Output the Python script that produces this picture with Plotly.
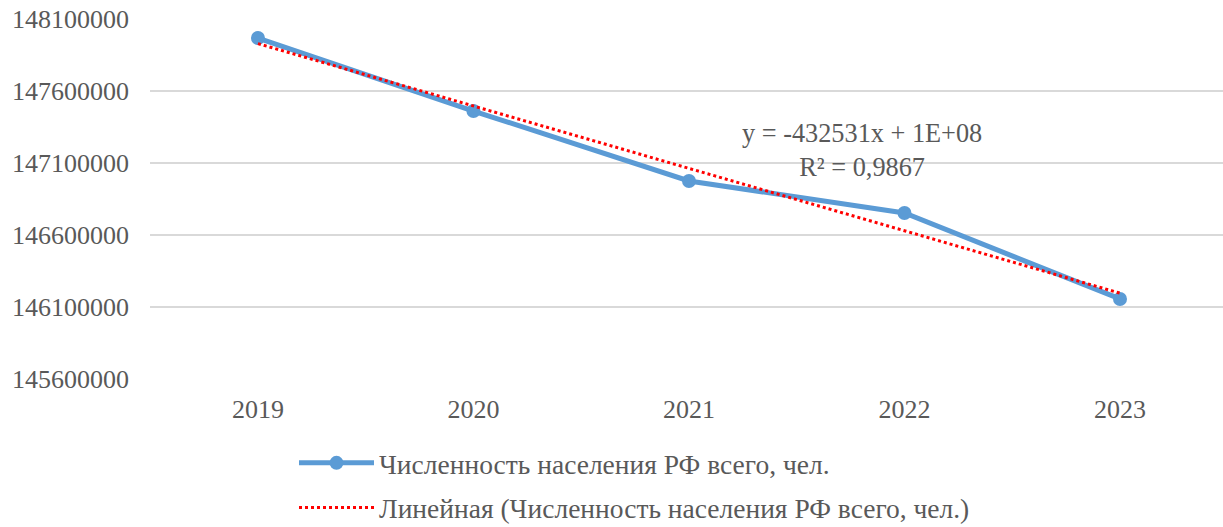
import numpy as np
import plotly.graph_objects as go

years = ["2019", "2020", "2021", "2022", "2023"]
population = [147968000, 147461000, 146975000, 146753000, 146156000]
series_name = "Численность населения РФ всего, чел."
trend_name = "Линейная (Численность населения РФ всего, чел.)"
y_ticks = [145600000, 146100000, 146600000, 147100000, 147600000, 148100000]

x_idx = np.arange(1, len(years) + 1)
slope, intercept = np.polyfit(x_idx, population, 1)
trend = slope * x_idx + intercept

FONT = "Liberation Serif, Times New Roman, serif"
GRAY = "#595959"

fig = go.Figure()
fig.add_trace(go.Scatter(
    x=years, y=population, mode="lines+markers", name=series_name,
    line=dict(color="#5B9BD5", width=5),
    marker=dict(size=14, color="#5B9BD5"),
    legendgroup="a",
))
fig.add_trace(go.Scatter(
    x=years, y=trend, mode="lines", name=trend_name,
    line=dict(color="#FF0000", width=3, dash="dot"),
    legendgroup="b",
))

fig.add_annotation(
    xref="paper", yref="paper", x=0.664, y=0.636,
    text="y = -432531x + 1E+08<br>R² = 0,9867",
    showarrow=False, font=dict(family=FONT, size=26.3, color=GRAY),
    align="center",
)

fig.update_layout(
    width=1223, height=527,
    margin=dict(l=150, r=0, t=19, b=148, autoexpand=False),
    plot_bgcolor="white", paper_bgcolor="white",
    font=dict(family=FONT, size=26, color=GRAY),
    xaxis=dict(type="category", range=[-0.501, 4.478], showgrid=False,
               showline=False, ticks="", ticklabelstandoff=12,
               automargin=False, tickfont=dict(size=26, color=GRAY)),
    yaxis=dict(range=[145600000, 148100000], tickvals=y_ticks,
               ticktext=[str(v) for v in y_ticks], showgrid=True,
               gridcolor="#D9D9D9", gridwidth=1.5, zeroline=False,
               showline=False, ticks="", ticklabelstandoff=20, automargin=False,
               tickfont=dict(size=26, color=GRAY)),
    legend=dict(orientation="v", x=0.1342, xanchor="left",
                yref="container", y=0.168, yanchor="top",
                font=dict(family=FONT, size=27.5, color=GRAY), tracegroupgap=6,
                itemwidth=75),
    showlegend=True,
)

fig.write_html("out.html", config={"displayModeBar": False},
               post_script="document.body.style.margin='0px';document.body.style.overflow='hidden';")
